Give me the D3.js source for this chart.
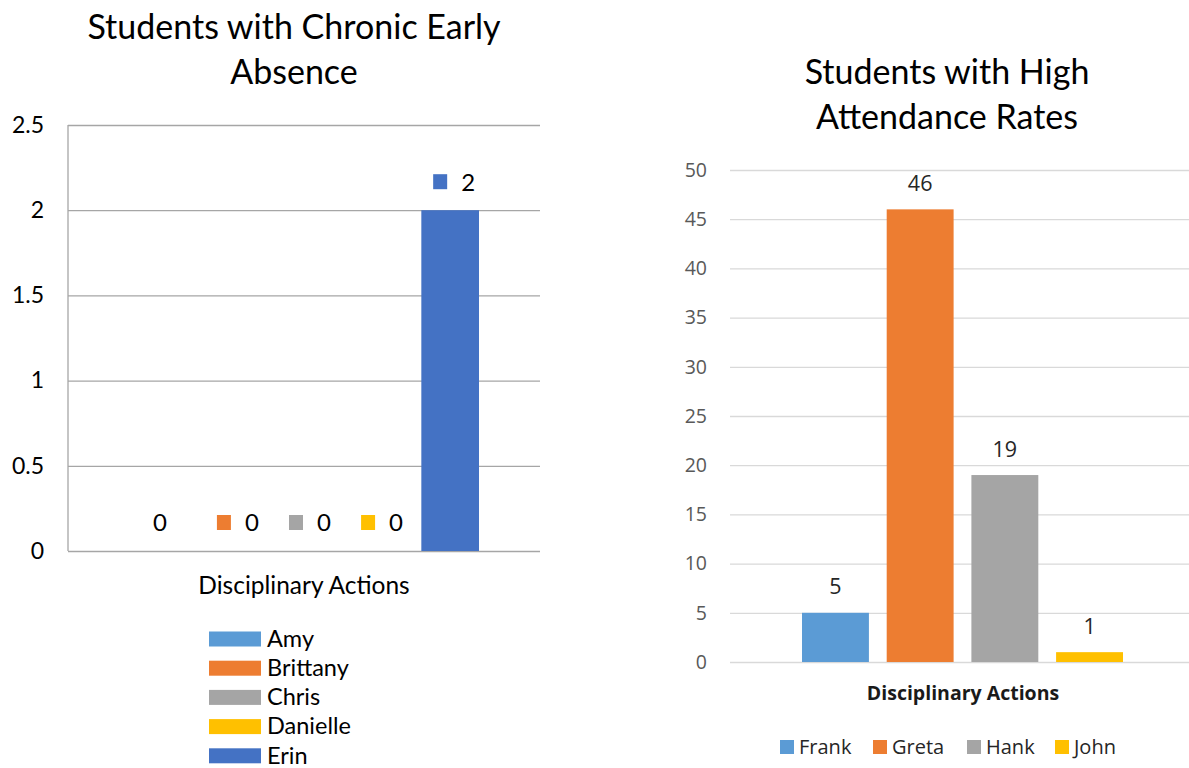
<!DOCTYPE html>
<html>
<head>
<meta charset="utf-8">
<script src="https://cdn.jsdelivr.net/npm/d3@7"></script>
<style>
  html, body { margin: 0; padding: 0; background: #fff; }
  svg { display: block; }
</style>
</head>
<body>
<svg id="chart" width="1189" height="768"></svg>
<script>
// ---------- DATA ----------
const leftTitle = ["Students with Chronic Early", "Absence"];
const leftCategory = "Disciplinary Actions";
const leftSeries = ["Amy", "Brittany", "Chris", "Danielle", "Erin"];
const leftValues = [0, 0, 0, 0, 2];
const leftColors = ["#5B9BD5", "#ED7D31", "#A5A5A5", "#FFC000", "#4472C4"];
const leftTicks = [0, 0.5, 1, 1.5, 2, 2.5];
const leftLabelKeys = [false, true, true, true, true];

const rightTitle = ["Students with High", "Attendance Rates"];
const rightCategory = "Disciplinary Actions";
const rightSeries = ["Frank", "Greta", "Hank", "John"];
const rightValues = [5, 46, 19, 1];
const rightColors = ["#5B9BD5", "#ED7D31", "#A5A5A5", "#FFC000"];
const rightTicks = [0, 5, 10, 15, 20, 25, 30, 35, 40, 45, 50];

const svg = d3.select("#chart");

// ================= LEFT CHART =================
(function () {
  const font = "Lato, 'Open Sans', sans-serif";
  const L = { left: 68, right: 540, top: 125, bottom: 551 };
  const g = svg.append("g");

  g.append("g").selectAll("text").data(leftTitle).join("text")
    .attr("x", 294).attr("y", (d, i) => 39 + i * 45)
    .attr("text-anchor", "middle")
    .attr("font-family", font).attr("font-size", 34).attr("fill", "#000")
    .text(d => d);

  const y = d3.scaleLinear().domain([0, 2.5]).range([L.bottom, L.top]);
  const x = d3.scaleBand().domain(leftSeries).range([133, 479]).paddingInner(0.2).paddingOuter(0);

  // gridlines
  const grid = g.append("g").attr("transform", `translate(${L.left},0)`)
    .call(d3.axisLeft(y).tickValues(leftTicks).tickSize(-(L.right - L.left)).tickFormat(""));
  grid.select(".domain").remove();
  grid.selectAll("line").attr("stroke", "#A6A6A6").attr("stroke-width", 1.3);

  // vertical axis line
  g.append("line").attr("x1", L.left).attr("x2", L.left).attr("y1", L.top).attr("y2", L.bottom)
    .attr("stroke", "#A6A6A6").attr("stroke-width", 1.3);

  // tick labels
  const ax = g.append("g").attr("transform", `translate(${L.left},0)`)
    .call(d3.axisLeft(y).tickValues(leftTicks).tickSize(0).tickPadding(24).tickFormat(d => String(d)));
  ax.select(".domain").remove();
  ax.selectAll("text").attr("font-family", font).attr("font-size", 23).attr("fill", "#000");

  // bars
  g.append("g").selectAll("rect").data(leftSeries).join("rect")
    .attr("x", d => x(d)).attr("width", x.bandwidth())
    .attr("y", (d, i) => y(leftValues[i]))
    .attr("height", (d, i) => y(0) - y(leftValues[i]))
    .attr("fill", (d, i) => leftColors[i]);

  // data labels
  const lab = g.append("g").selectAll("g").data(leftSeries).join("g")
    .attr("transform", (d, i) => `translate(${x(d) + x.bandwidth() / 2},${y(leftValues[i]) - 28})`);
  lab.filter((d, i) => leftLabelKeys[i]).append("rect")
    .attr("x", -17).attr("y", -8).attr("width", 14).attr("height", 15)
    .attr("fill", d => leftColors[leftSeries.indexOf(d)]);
  lab.append("text")
    .attr("x", (d, i) => leftLabelKeys[i] ? 18 : -2).attr("y", 0).attr("dy", "0.35em")
    .attr("text-anchor", "middle")
    .attr("font-family", font).attr("font-size", 24).attr("fill", "#000")
    .text((d, i) => leftValues[i]);

  // category label
  g.append("text").attr("x", 304).attr("y", 585).attr("dy", "0.35em")
    .attr("text-anchor", "middle").attr("font-family", font).attr("font-size", 24.5).attr("fill", "#000")
    .text(leftCategory);

  // legend
  const leg = g.append("g").selectAll("g").data(leftSeries).join("g")
    .attr("transform", (d, i) => `translate(209,${639 + i * 29.2})`);
  leg.append("rect").attr("x", 0).attr("y", -7.5).attr("width", 52).attr("height", 15)
    .attr("fill", (d, i) => leftColors[i]);
  leg.append("text").attr("x", 58).attr("y", 0).attr("dy", "0.33em")
    .attr("font-family", font).attr("font-size", 23.5).attr("fill", "#000").text(d => d);
})();

// ================= RIGHT CHART =================
(function () {
  const font = "'Open Sans', 'Noto Sans', sans-serif";
  const tfont = "Lato, 'Open Sans', sans-serif";
  const R = { left: 730, right: 1195, top: 170, bottom: 662 };
  const g = svg.append("g");

  g.append("g").selectAll("text").data(rightTitle).join("text")
    .attr("x", 947).attr("y", (d, i) => 84 + i * 45)
    .attr("text-anchor", "middle")
    .attr("font-family", tfont).attr("font-size", 34).attr("fill", "#000")
    .text(d => d);

  const y = d3.scaleLinear().domain([0, 50]).range([R.bottom, R.top]);
  const x = d3.scaleBand().domain(rightSeries).range([802, 1123]).paddingInner(0.21).paddingOuter(0);

  const grid = g.append("g").attr("transform", `translate(${R.left},0)`)
    .call(d3.axisLeft(y).tickValues(rightTicks).tickSize(-(R.right - R.left)).tickFormat(""));
  grid.select(".domain").remove();
  grid.selectAll("line").attr("stroke", "#D9D9D9").attr("stroke-width", 1.3);

  const ax = g.append("g").attr("transform", `translate(${R.left},0)`)
    .call(d3.axisLeft(y).tickValues(rightTicks).tickSize(0).tickPadding(23).tickFormat(d => String(d)));
  ax.select(".domain").remove();
  ax.selectAll("text").attr("font-family", font).attr("font-size", 19.5).attr("fill", "#595959");

  g.append("g").selectAll("rect").data(rightSeries).join("rect")
    .attr("x", d => x(d)).attr("width", x.bandwidth())
    .attr("y", (d, i) => y(rightValues[i]))
    .attr("height", (d, i) => y(0) - y(rightValues[i]))
    .attr("fill", (d, i) => rightColors[i]);

  g.append("g").selectAll("text").data(rightSeries).join("text")
    .attr("x", d => x(d) + x.bandwidth() / 2)
    .attr("y", (d, i) => y(rightValues[i]) - 26).attr("dy", "0.35em")
    .attr("text-anchor", "middle")
    .attr("font-family", font).attr("font-size", 21.5).attr("fill", "#262626")
    .text((d, i) => rightValues[i]);

  g.append("text").attr("x", 963).attr("y", 693).attr("dy", "0.35em")
    .attr("text-anchor", "middle").attr("font-family", font).attr("font-size", 19.5)
    .attr("font-weight", "bold").attr("fill", "#1a1a1a")
    .text(rightCategory);

  // legend (horizontal)
  const legendX = [780, 873, 967, 1055];
  const leg = g.append("g").selectAll("g").data(rightSeries).join("g")
    .attr("transform", (d, i) => `translate(${legendX[i]},747)`);
  leg.append("rect").attr("x", 0).attr("y", -7).attr("width", 14).attr("height", 14)
    .attr("fill", (d, i) => rightColors[i]);
  leg.append("text").attr("x", 19).attr("y", 0).attr("dy", "0.35em")
    .attr("font-family", font).attr("font-size", 20).attr("fill", "#262626").text(d => d);
})();
</script>
</body>
</html>
